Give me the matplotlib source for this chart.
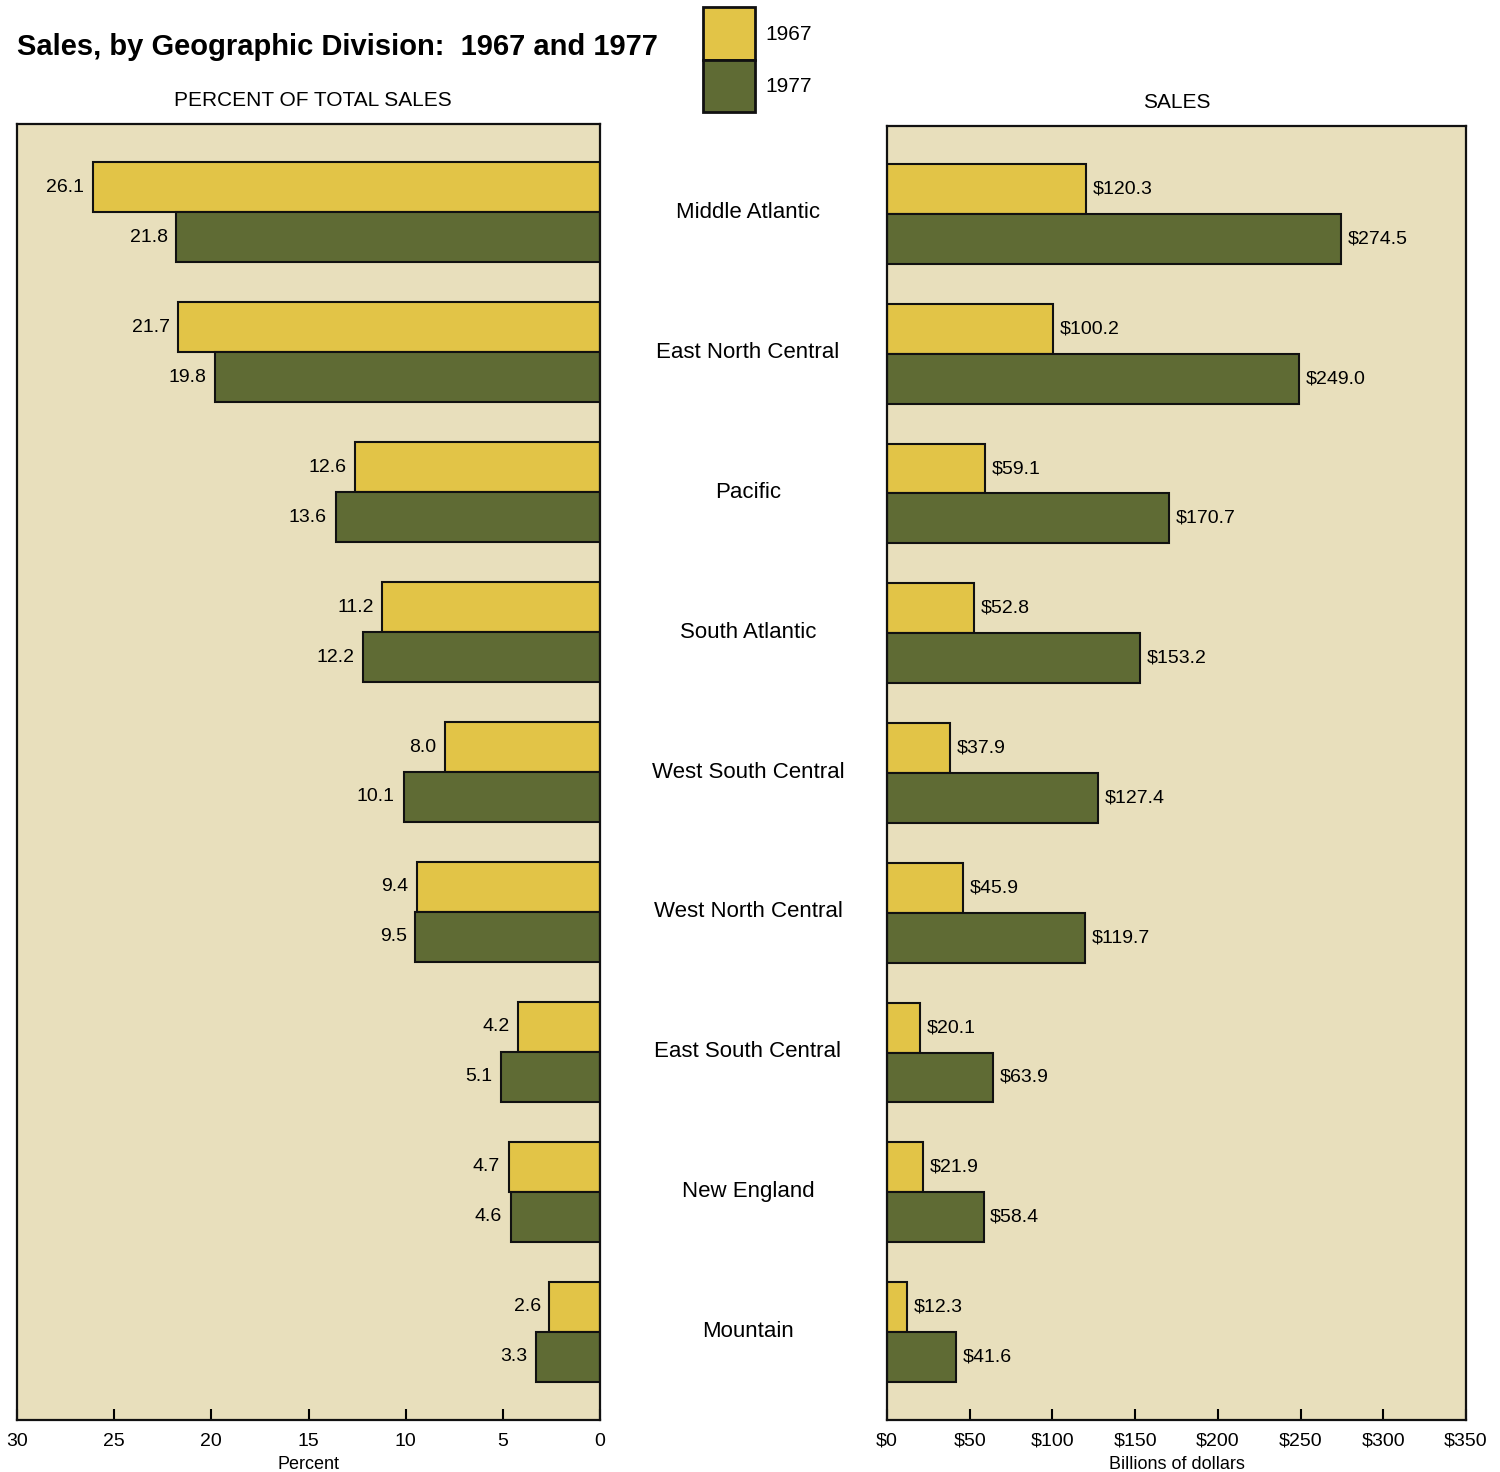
import matplotlib.pyplot as plt
import numpy as np

plt.rcParams['font.family'] = ['Liberation Sans', 'DejaVu Sans']

divisions = ['Middle Atlantic', 'East North Central', 'Pacific', 'South Atlantic',
             'West South Central', 'West North Central', 'East South Central',
             'New England', 'Mountain']
pct_1967 = [26.1, 21.7, 12.6, 11.2, 8.0, 9.4, 4.2, 4.7, 2.6]
pct_1977 = [21.8, 19.8, 13.6, 12.2, 10.1, 9.5, 5.1, 4.6, 3.3]
sales_1967 = [120.3, 100.2, 59.1, 52.8, 37.9, 45.9, 20.1, 21.9, 12.3]
sales_1977 = [274.5, 249.0, 170.7, 153.2, 127.4, 119.7, 63.9, 58.4, 41.6]
pct_ticks = [30, 25, 20, 15, 10, 5, 0]
sales_ticks = [0, 50, 100, 150, 200, 250, 300, 350]

c67 = '#e2c447'
c77 = '#5f6b34'
bg = '#e8dfbc'

fig = plt.figure(figsize=(15, 14.72), dpi=100)
W, H = 1500, 1472

def px_axes(x0, y0, x1, y1):
    return fig.add_axes([x0 / W, 1 - y1 / H, (x1 - x0) / W, (y1 - y0) / H])

axL = px_axes(17, 124, 600, 1420)
axR = px_axes(887, 126, 1466, 1420)

y = np.arange(len(divisions))
h = 0.357

for ax in (axL, axR):
    ax.set_facecolor(bg)
    ax.set_ylim(len(divisions) - 1 + 0.629, -0.629)
    ax.set_yticks([])
    for s in ax.spines.values():
        s.set_linewidth(1.6)
        s.set_color('#111111')
    ax.tick_params(axis='x', direction='in', length=8, width=1.5, labelsize=14, pad=9)

# left: percent
axL.barh(y - h / 2, pct_1967, height=h, color=c67, edgecolor='#111111', linewidth=1.5)
axL.barh(y + h / 2, pct_1977, height=h, color=c77, edgecolor='#111111', linewidth=1.5)
axL.set_xlim(30, 0)
axL.set_xticks(pct_ticks)
axL.set_xticklabels([str(t) for t in pct_ticks])
axL.set_xlabel('Percent', fontsize=13, labelpad=5)
for i in range(len(divisions)):
    axL.text(pct_1967[i] + 0.45, y[i] - h / 2, f'{pct_1967[i]:.1f}', ha='right', va='center', fontsize=14)
    axL.text(pct_1977[i] + 0.45, y[i] + h / 2, f'{pct_1977[i]:.1f}', ha='right', va='center', fontsize=14)

# right: sales
axR.barh(y - h / 2, sales_1967, height=h, color=c67, edgecolor='#111111', linewidth=1.5)
axR.barh(y + h / 2, sales_1977, height=h, color=c77, edgecolor='#111111', linewidth=1.5)
axR.set_xlim(0, 350)
axR.set_xticks(sales_ticks)
axR.set_xticklabels([f'${t}' for t in sales_ticks])
axR.set_xlabel('Billions of dollars', fontsize=13, labelpad=5)
for i in range(len(divisions)):
    axR.text(sales_1967[i] + 4, y[i] - h / 2, f'${sales_1967[i]:.1f}', ha='left', va='center', fontsize=14)
    axR.text(sales_1977[i] + 4, y[i] + h / 2, f'${sales_1977[i]:.1f}', ha='left', va='center', fontsize=14)

# division names between the panels
for i, name in enumerate(divisions):
    yy = axL.transData.transform((0, y[i]))[1]
    fig.text(748 / W, yy / fig.dpi / fig.get_figheight(), name, ha='center', va='center', fontsize=16)

fig.text(17 / W, 1 - 47 / H, 'Sales, by Geographic Division:  1967 and 1977', ha='left', va='center',
         fontsize=21, fontweight='bold')
fig.text(313 / W, 1 - 101 / H, 'PERCENT OF TOTAL SALES', ha='center', va='center', fontsize=15)
fig.text(1177 / W, 1 - 103 / H, 'SALES', ha='center', va='center', fontsize=15)

# legend boxes
legL = px_axes(703, 7, 755, 112)
legL.set_xlim(0, 1)
legL.set_ylim(2, 0)
legL.axis('off')
legL.barh([0.5, 1.5], [1, 1], height=1, color=[c67, c77], edgecolor='#111111', linewidth=2,
          clip_on=False)
fig.text(765 / W, 1 - 35 / H, '1967', ha='left', va='center', fontsize=15)
fig.text(765 / W, 1 - 87 / H, '1977', ha='left', va='center', fontsize=15)

fig.savefig('out.png', dpi=100)
